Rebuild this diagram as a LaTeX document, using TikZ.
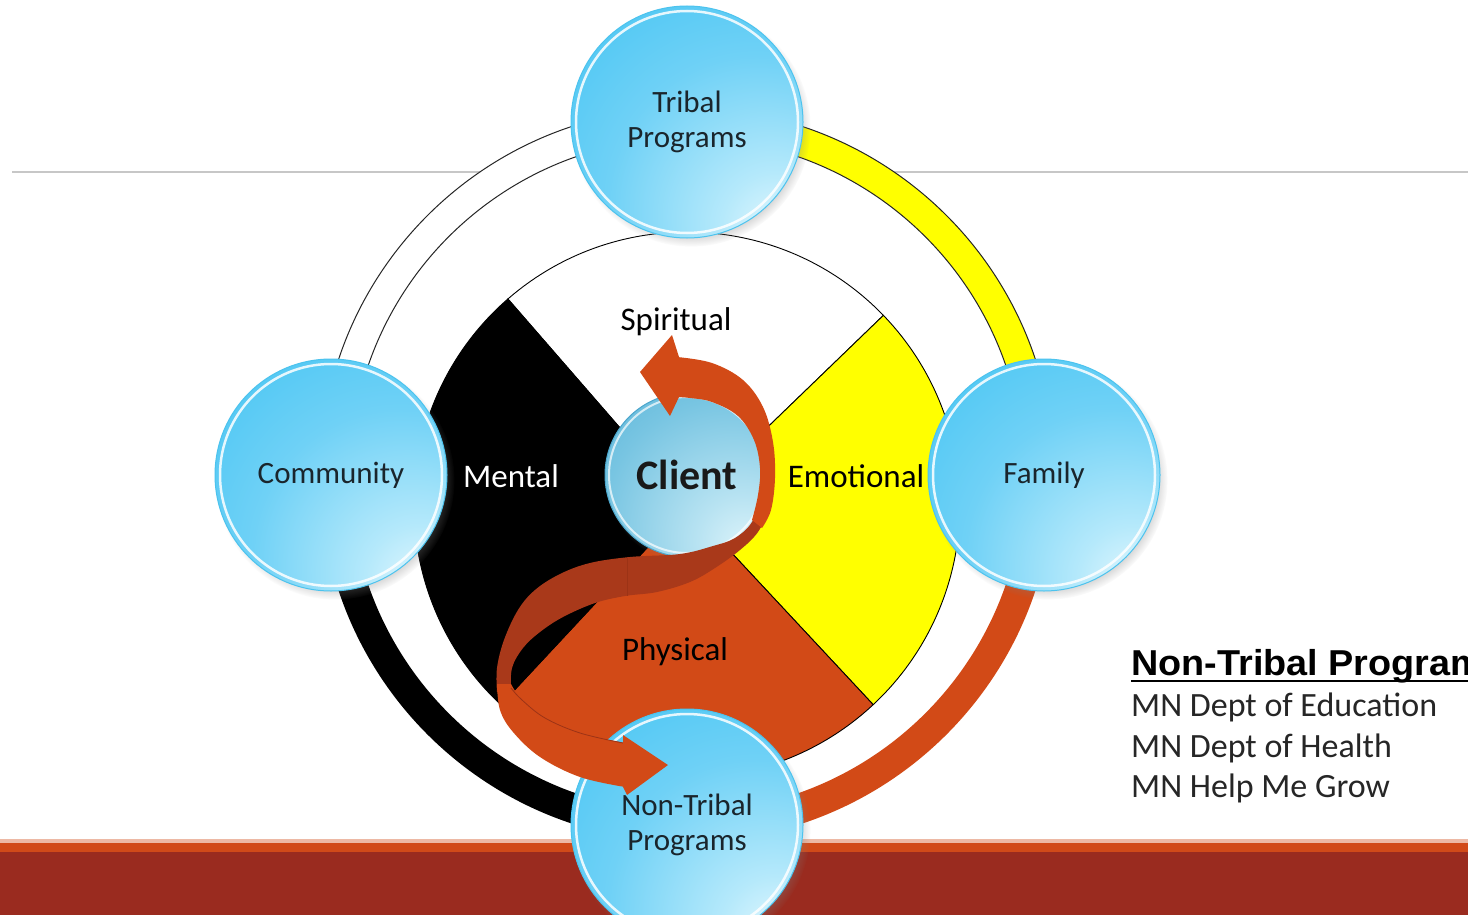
\documentclass[tikz,border=0pt]{standalone}
\usepackage{fontspec}
\setmainfont{Carlito}
\newfontfamily\headfont{Liberation Sans}[FakeStretch=1.05]
\usetikzlibrary{shadows}
\definecolor{satA}{HTML}{3AC1F2}
\definecolor{satB}{HTML}{6FD1F6}
\definecolor{satC}{HTML}{B5E9FB}
\definecolor{satD}{HTML}{EEFBFF}
\definecolor{satedge}{HTML}{4CC3EE}
\definecolor{sattext}{HTML}{1A252C}
\definecolor{cliA}{HTML}{45A9D1}
\definecolor{cliB}{HTML}{78C5E2}
\definecolor{cliC}{HTML}{B8E3F2}
\definecolor{cliD}{HTML}{E2F6FB}
\definecolor{cliedge}{HTML}{4BA6CC}
\definecolor{redA}{HTML}{D24A17}
\definecolor{ribdark}{HTML}{A9391A}
\definecolor{ribline}{HTML}{9C3316}
\definecolor{bandA}{HTML}{D14A19}
\definecolor{bandB}{HTML}{9A2B1F}
\definecolor{bandC}{HTML}{EDB9A5}
\definecolor{yel}{HTML}{FFFF00}
\definecolor{listtext}{HTML}{262626}
\pgfdeclareradialshading{satshade}{\pgfpoint{22bp}{-26bp}}{%
 color(0bp)=(satD); color(12bp)=(satC); color(32bp)=(satB); color(58bp)=(satA); color(100bp)=(satA)}
\pgfdeclareradialshading{clishade}{\pgfpoint{20bp}{-24bp}}{%
 color(0bp)=(cliD); color(14bp)=(cliC); color(38bp)=(cliB); color(64bp)=(cliA); color(100bp)=(cliA)}
\tikzset{
 sat/.style={circle, minimum size=232pt, inner sep=0pt, shading=satshade, draw=satedge, line width=1pt,
   circular drop shadow={shadow xshift=4pt, shadow yshift=-5pt, shadow scale=1.03, opacity=0.5},
   font=\fontsize{31}{35}\selectfont, text=sattext, align=center,
   path picture={\draw[white, line width=2.5pt, opacity=0.85] (path picture bounding box.center) circle (111pt);}},
 cli/.style={circle, minimum size=164pt, inner sep=0pt, shading=clishade, draw=cliedge, line width=1pt,
   circular drop shadow={shadow xshift=3pt, shadow yshift=-4pt, shadow scale=1.03, opacity=0.4},
   font=\bfseries\fontsize{42}{46}\selectfont, text=black!90,
   path picture={\draw[white, line width=2pt, opacity=0.7] (path picture bounding box.center) circle (78pt);}},
 wlabel/.style={font=\fontsize{33}{37}\selectfont, inner sep=0pt},
 ringedge/.style={draw=black!85, line width=1pt},
 listitem/.style={anchor=base west, inner sep=0pt, font=\fontsize{34}{38}\selectfont, text=listtext},
}
\begin{document}
\begin{tikzpicture}[x=1pt,y=-1pt]
\useasboundingbox (0,0) rectangle (1468,915);
\clip (0,0) rectangle (1468,915);
\fill[white] (0,0) rectangle (1468,915);
% horizontal rule
\draw[line width=1.6pt, color=black!22] (12,172) -- (1468,172);
% bottom band
\fill[bandC] (0,839) rectangle (1468,843);
\fill[bandA] (0,843) rectangle (1468,852);
\fill[bandB] (0,852) rectangle (1468,915);
% outer ring
\begin{scope}[shift={(687,475)}]
 \fill[white] (0,0) circle (367);
 \filldraw[fill=white, ringedge] (-90:367) arc[start angle=-90, end angle=-180, radius=367] -- (-180:337) arc[start angle=-180, end angle=-90, radius=337] -- cycle;
 \filldraw[fill=yel, ringedge] (0:367) arc[start angle=0, end angle=-90, radius=367] -- (-90:337) arc[start angle=-90, end angle=0, radius=337] -- cycle;
 \fill[redA] (0:367) arc[start angle=0, end angle=90, radius=367] -- (90:337) arc[start angle=90, end angle=0, radius=337] -- cycle;
 \fill[black] (90:367) arc[start angle=90, end angle=180, radius=367] -- (180:337) arc[start angle=180, end angle=90, radius=337] -- cycle;
\end{scope}
% medicine wheel
\begin{scope}[shift={(687,505)}]
 \filldraw[fill=white, draw=black, line width=0.9pt] (0,0) -- (-44:273) arc[start angle=-44, end angle=-131, radius=273] -- cycle;
 \filldraw[fill=yel, draw=black, line width=0.9pt] (0,0) -- (47:273) arc[start angle=47, end angle=-44, radius=273] -- cycle;
 \filldraw[fill=redA, draw=black, line width=0.9pt] (0,0) -- (133:273) arc[start angle=133, end angle=47, radius=273] -- cycle;
 \filldraw[fill=black, draw=black, line width=0.9pt] (0,0) -- (-131:273) arc[start angle=-131, end angle=-227, radius=273] -- cycle;
\end{scope}
% wheel labels
\node[wlabel] (spiritual) at (676,322) {Spiritual};
\node[wlabel, text=white] (mental) at (511,476) {Mental};
\node[wlabel] (emotional) at (856,476) {Emotional};
\node[wlabel] (physical) at (675,652) {Physical};
% satellites
\node[sat] (tribal) at (687,122) {Tribal\\Programs};
\node[sat] (community) at (331,475) {Community};
\node[sat] (family) at (1044,475) {Family};
\node[sat] (nontribal) at (687,825) {Non-Tribal\\Programs};
% client
\node[cli] (client) at (687,475) {Client};
% ribbon arrow
\fill[ribdark] plot[smooth,tension=0.6] coordinates {(760,498) (752,522) (735,538) (713,546) (680,554) (630,557) (590,563) (560,574) (535,590) (518,610) (504,640) (497,668) (497,692)}
  -- plot[smooth,tension=0.6] coordinates {(511,692) (512,668) (523,648) (540,632) (563,617) (595,603) (625,596) (657,592) (690,582) (715,568) (740,550) (758,532) (770,508)} -- cycle;
\draw[ribline, line width=0.8pt] (627,557) -- (627,596);
\fill[redA] plot[smooth,tension=0.6] coordinates {(677,357) (712,363) (743,380) (763,407) (773,442) (775,478) (771,510) (762,528)}
  -- plot[smooth,tension=0.6] coordinates {(752,520) (758,495) (760,468) (754,440) (738,416) (712,402) (690,398) (677,397)} -- cycle;
\coordinate (tiptop) at (640,372);
\fill[redA] (tiptop) -- (672,335) -- (679,357) -- (679,397) -- (670,416) -- cycle;
\fill[redA] plot[smooth,tension=0.6] coordinates {(497,684) (500,710) (513,732) (540,757) (580,777) (625,787)}
  -- plot[smooth,tension=0.6] coordinates {(625,743) (580,733) (545,718) (522,700) (511,684)} -- cycle;
\draw[ribline, line width=0.8pt] plot[smooth,tension=0.6] coordinates {(511,688) (522,700) (545,718) (580,733) (623,743)};
\coordinate (tipbot) at (668,765);
\fill[redA] (tipbot) -- (627,795) -- (623,787) -- (623,743) -- (623,735) -- cycle;
% right list
\node[anchor=base west, inner sep=0pt, font=\headfont\bfseries\fontsize{36}{40}\selectfont, text=black] (head) at (1131,675) {Non-Tribal Programs};
\draw[line width=2.5pt, black] ([yshift=-6pt]head.base west) -- ++(400,0);
\node[listitem] (l1) at (1131,716) {MN Dept of Education};
\node[listitem] (l2) at (1131,757) {MN Dept of Health};
\node[listitem] (l3) at (1131,797) {MN Help Me Grow};
\end{tikzpicture}
\end{document}
